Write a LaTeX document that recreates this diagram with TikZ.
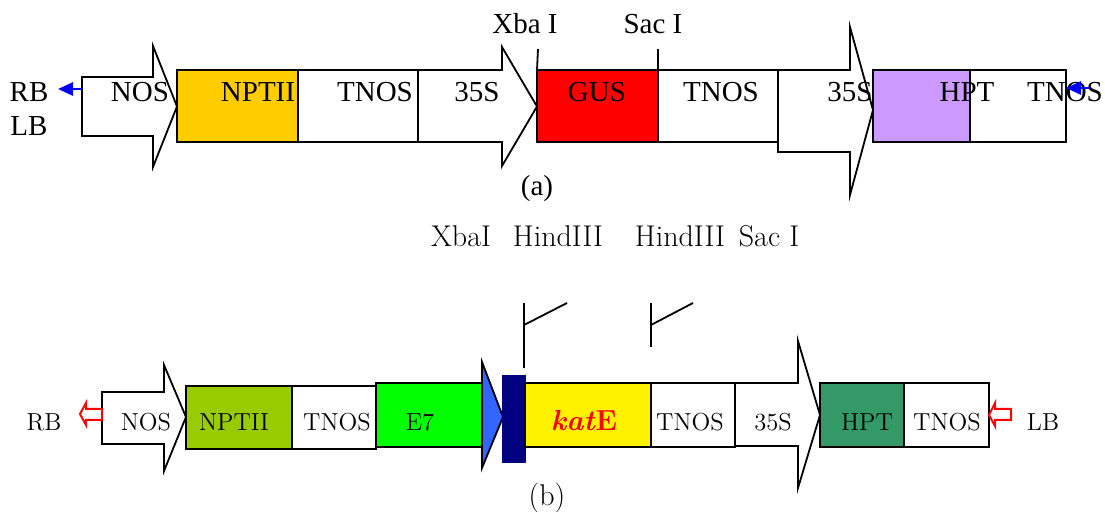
\documentclass[tikz,border=0pt]{standalone}
\usepackage{fontspec}
\newfontfamily\timesf{Liberation Serif}
\usetikzlibrary{arrows.meta,fit}
\definecolor{nptA}{HTML}{FFCC00}
\definecolor{hptA}{HTML}{CC99FF}
\definecolor{nptB}{HTML}{99CC00}
\definecolor{hptB}{HTML}{339966}
\definecolor{triB}{HTML}{3366FF}
\definecolor{navyB}{HTML}{000080}
\begin{document}
\begin{tikzpicture}[x=0.5pt,y=-0.5pt,
  seg/.style={draw, line width=0.9pt, inner sep=0pt, outer sep=0pt},
  blk/.style={draw, line width=0.9pt, fill=white, line join=miter},
  ta/.style={font=\timesf\fontsize{14.5}{16}\selectfont, anchor=base, inner sep=0pt},
  tb/.style={font=\fontsize{12.3}{14}\selectfont, anchor=base, inner sep=0pt},
  tbt/.style={font=\fontsize{15}{17}\selectfont, anchor=base, inner sep=0pt},
  bluearr/.style={draw=blue, line width=1.3pt, -{Triangle[length=7.5pt,width=6.5pt]}},
  redarr/.style={draw=red, line width=1pt, fill=white, line join=miter},
  tick/.style={draw, line width=0.9pt}]
\useasboundingbox (0,0) rectangle (1105,512);

% ---------------- (a) ----------------
\draw[blk] (82,77) -- (153,77) -- (153,46) -- (177,106.5) -- (153,167) -- (153,136) -- (82,136) -- cycle;
\coordinate (nosAL) at (82,89);
\node[seg, fill=nptA, fit={(177,70) (298,142)}] (nptiiA) {};
\node[seg, fill=white, fit={(298,70) (418,142)}] (tnosA1) {};
\draw[blk] (418,70) -- (502,70) -- (502,47) -- (537,106.5) -- (502,166) -- (502,142) -- (418,142) -- cycle;
\node[seg, fill=red, fit={(537,70) (658,142)}] (gusA) {};
\node[seg, fill=white, fit={(658,70) (778,142)}] (tnosA2) {};
\draw[blk] (778,70) -- (850,70) -- (850,27) -- (873,110) -- (850,195) -- (850,152) -- (778,152) -- cycle;
\node[seg, fill=hptA, fit={(873,70) (970,142)}] (hptA) {};
\node[seg, fill=white, fit={(970,70) (1066,142)}] (tnosA3) {};

\coordinate (xbaA) at (538,49);
\coordinate (sacA) at (658,49);
\draw[tick] (xbaA) -- (gusA.north west);
\draw[tick] (sacA) -- (gusA.north east);

\node[ta] (rbA) at (29,102) {RB};
\node[ta] (lbA) at (29,136) {LB};
\node[ta] (nosAt) at (140,102) {NOS};
\node[ta] (nptAt) at (258,102) {NPTII};
\node[ta] (tnosAt1) at (375,102) {TNOS};
\node[ta] (s35At1) at (477,102) {35S};
\node[ta] (gusAt) at (597,102) {GUS};
\node[ta] (tnosAt2) at (721,102) {TNOS};
\node[ta] (s35At2) at (850,102) {35S};
\node[ta] (hptAt) at (967,102) {HPT};
\node[ta] (tnosAt3) at (1065,102) {TNOS};
\node[ta] (xbaAt) at (525,34) {Xba I};
\node[ta] (sacAt) at (653,34) {Sac I};
\node[ta] (labA) at (537,196) {(a)};

\coordinate (rbAtip) at (58,89);
\draw[bluearr] (nosAL) -- (rbAtip);
\coordinate (lbAstart) at (1090,88);
\coordinate (lbAtip) at (1066,88);
\draw[bluearr] (lbAstart) -- (lbAtip);

% ---------------- (b) ----------------
\draw[blk] (102,392) -- (164,392) -- (164,365) -- (186,417) -- (164,471) -- (164,444) -- (102,444) -- cycle;
\node[seg, fill=nptB, fit={(186,386) (292,449)}] (nptiiB) {};
\node[seg, fill=white, fit={(292,386) (376,449)}] (tnosB1) {};
\node[seg, fill=green, fit={(376,383) (482,447)}] (e7B) {};
\draw[line width=0.9pt, fill=triB, line join=miter] (482,362) -- (503,417) -- (482,468) -- cycle;
\node[draw=navyB, fill=navyB, inner sep=0pt, fit={(502,375) (525,462)}] (navyB) {};
\node[seg, fill=yellow, fit={(525,383) (651,447)}] (katB) {};
\node[seg, fill=white, fit={(651,383) (735,447)}] (tnosB2) {};
\draw[blk] (735,383) -- (798,383) -- (798,341) -- (820,415) -- (798,488) -- (798,446) -- (735,446) -- cycle;
\node[seg, fill=hptB, fit={(820,383) (904,447)}] (hptB) {};
\node[seg, fill=white, fit={(904,383) (989,447)}] (tnosB3) {};

% red hollow arrows
\draw[redarr] (80,414) -- (86,403) -- (86,409) -- (102,409) -- (102,420) -- (86,420) -- (86,425) -- cycle;
\draw[redarr] (989,415) -- (995,403) -- (995,409) -- (1011,409) -- (1011,420) -- (995,420) -- (995,426) -- cycle;

% HindIII flags
\coordinate (f1top) at (524,303);
\coordinate (f1mid) at (524,325);
\coordinate (f1end) at (567,303);
\coordinate (f1bot) at (524,368);
\draw[tick] (f1top) -- (f1bot);
\draw[tick] (f1mid) -- (f1end);
\coordinate (f2top) at (651,303);
\coordinate (f2mid) at (651,325);
\coordinate (f2end) at (693,303);
\coordinate (f2bot) at (651,347);
\draw[tick] (f2top) -- (f2bot);
\draw[tick] (f2mid) -- (f2end);

\node[tbt] (xbaBt) at (461,247) {XbaI};
\node[tbt] (hind1) at (558,247) {HindIII};
\node[tbt] (hind2) at (680,247) {HindIII};
\node[tbt] (sacBt) at (769,247) {Sac I};

\node[tb] (rbB) at (44,431) {RB};
\node[tb] (nosBt) at (146,431) {NOS};
\node[tb] (nptBt) at (234,431) {NPTII};
\node[tb] (tnosBt1) at (337,431) {TNOS};
\node[tb] (e7Bt) at (420,431) {E7};
\node[anchor=base, inner sep=0pt, font=\fontsize{14.5}{16}\selectfont, text=red] (katBt) at (584,431) {\textbf{\textit{kat}E}};
\node[tb] (tnosBt2) at (690,431) {TNOS};
\node[tb] (s35Bt) at (773,431) {35S};
\node[tb] (hptBt) at (867,431) {HPT};
\node[tb] (tnosBt3) at (947,431) {TNOS};
\node[tb] (lbB) at (1043,431) {LB};
\node[tbt] (labB) at (547,506) {(b)};
\end{tikzpicture}
\end{document}
